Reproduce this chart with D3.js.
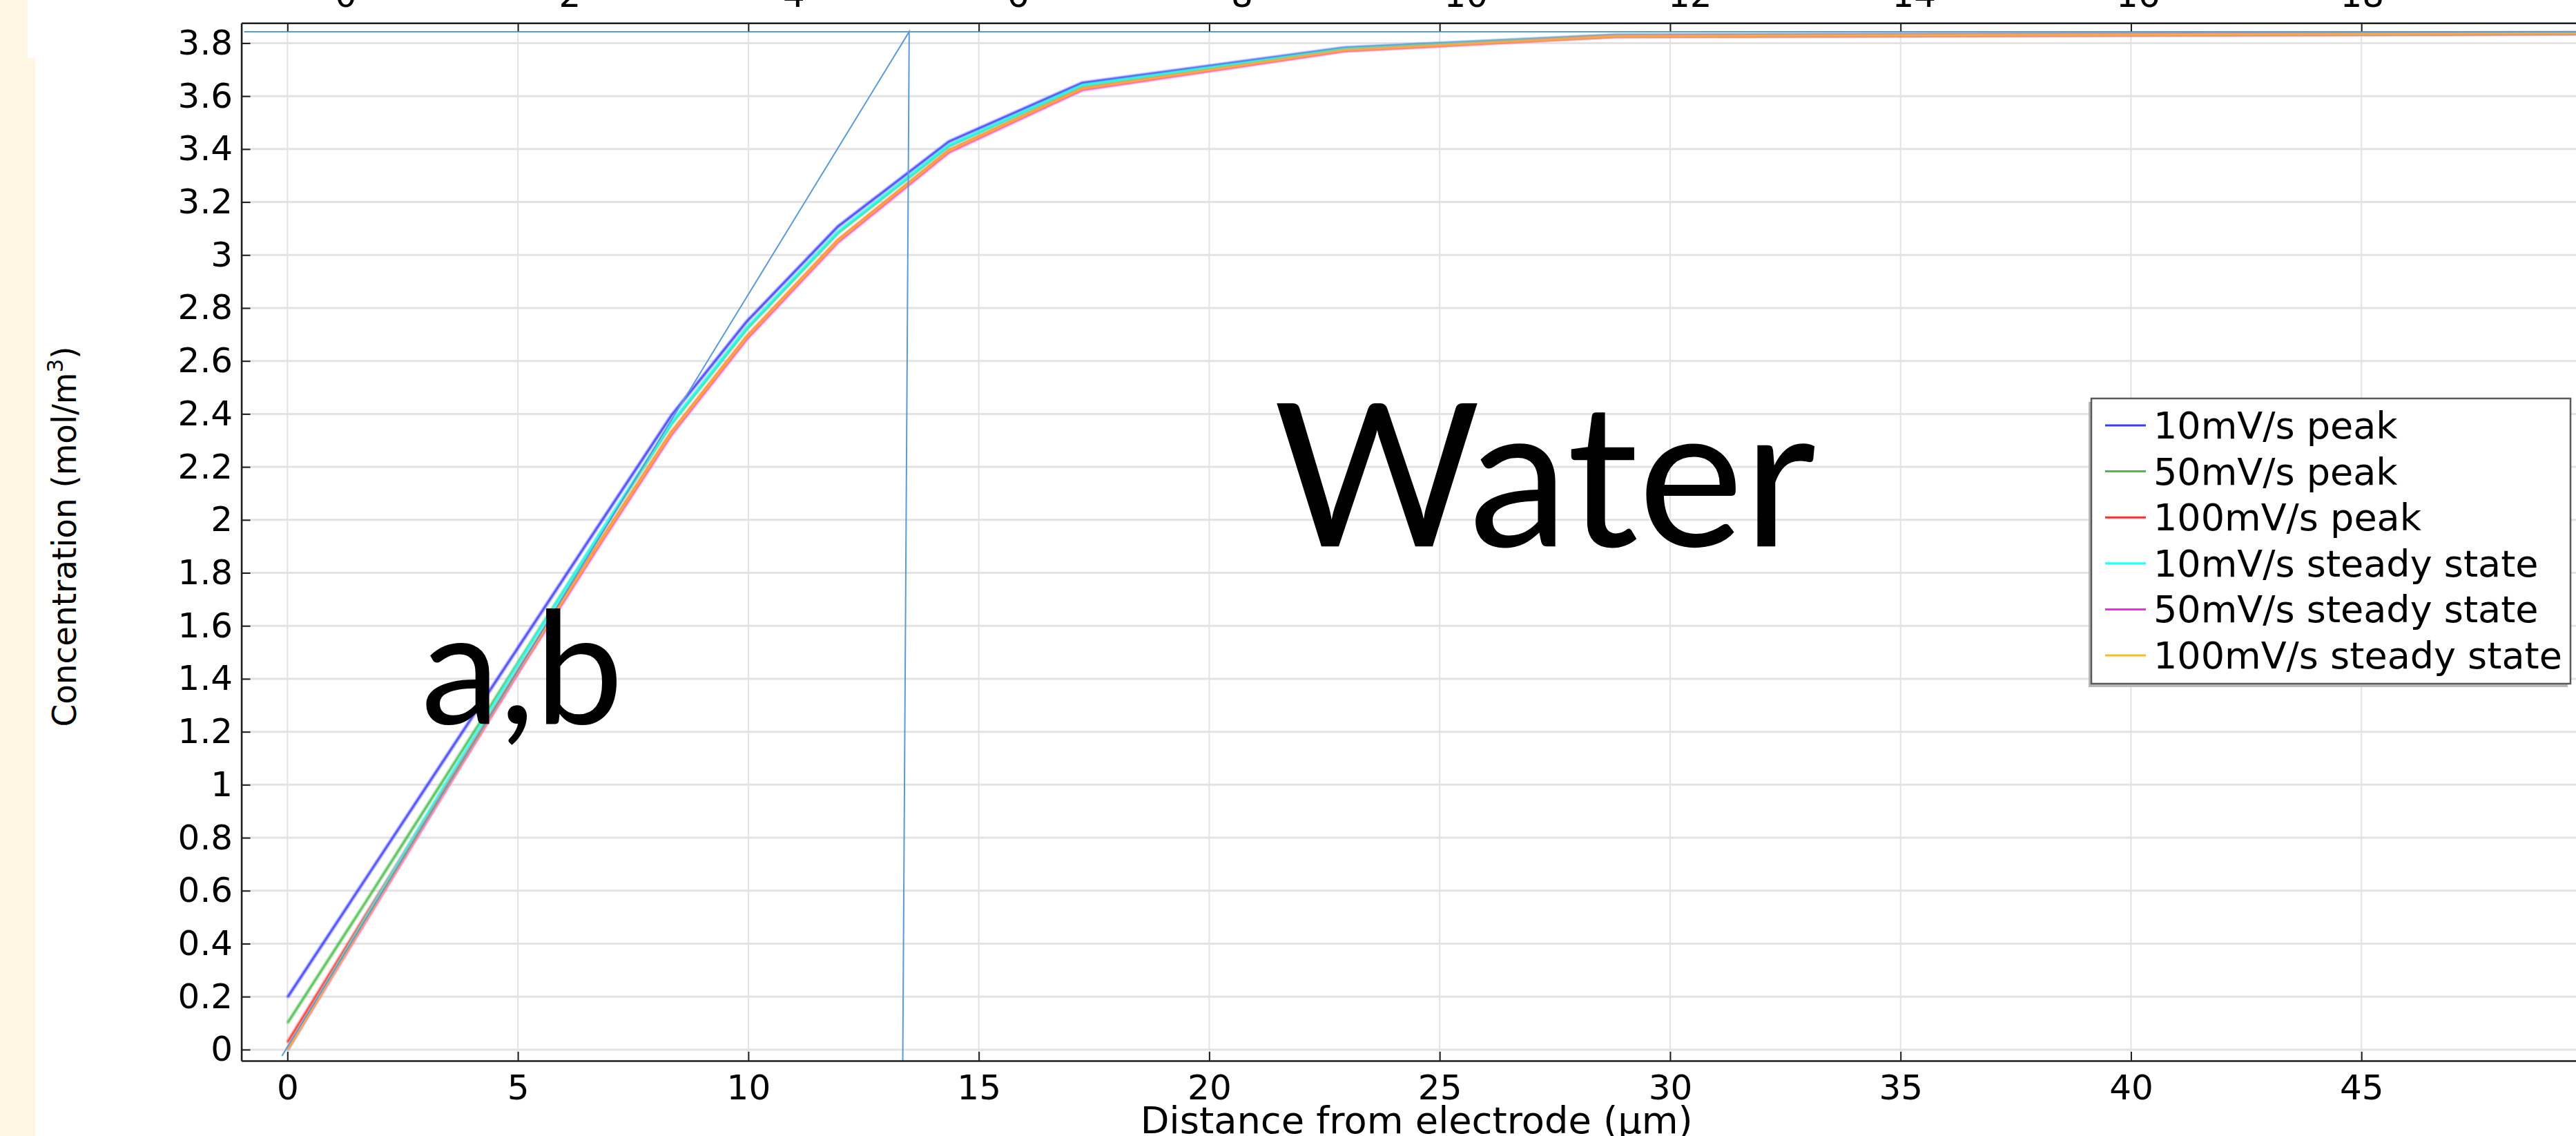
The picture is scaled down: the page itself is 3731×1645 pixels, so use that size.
<!DOCTYPE html>
<html>
<head>
<meta charset="utf-8">
<script src="https://cdn.jsdelivr.net/npm/d3@7"></script>
<style>
  html, body { margin: 0; padding: 0; background: #ffffff; }
  svg { display: block; }
</style>
</head>
<body>
<svg id="chart" width="3731" height="1645"></svg>
<script>
// ---- data: concentration profiles vs. distance from the electrode ----
const distance = [0, 1.7, 3.4, 5.1, 6.8, 8.33, 9.97, 11.94, 14.35, 17.25, 22.94, 28.8, 50];

const peak10    = [0.197, 0.646, 1.095, 1.543, 1.992, 2.394, 2.750, 3.107, 3.428, 3.650, 3.782, 3.829, 3.837];
const peak50    = [0.100, 0.558, 1.022, 1.488, 1.950, 2.362, 2.722, 3.083, 3.411, 3.640, 3.778, 3.828, 3.837];
const peak100   = [0.027, 0.508, 0.984, 1.459, 1.922, 2.330, 2.692, 3.055, 3.394, 3.629, 3.773, 3.826, 3.837];
const steady10  = [0.000, 0.500, 0.996, 1.482, 1.955, 2.366, 2.726, 3.087, 3.414, 3.641, 3.778, 3.828, 3.837];
const steady50  = [0.000, 0.486, 0.970, 1.450, 1.914, 2.322, 2.684, 3.048, 3.388, 3.624, 3.771, 3.826, 3.837];
const steady100 = [0.000, 0.490, 0.975, 1.455, 1.920, 2.328, 2.690, 3.053, 3.393, 3.628, 3.773, 3.826, 3.837];

const seriesNames  = ["10mV/s peak", "50mV/s peak", "100mV/s peak",
                      "10mV/s steady state", "50mV/s steady state", "100mV/s steady state"];
const seriesValues = [peak10, peak50, peak100, steady10, steady50, steady100];
const seriesColors = ["#3b3bff", "#4cbb4c", "#ff3030", "#22ffff", "#ff22ff", "#ffbb22"];

// bulk concentration and diffusion-layer tangent construction
const bulkLine    = [[-0.94, 3.843], [50, 3.843]];
const tangentLine = [[-0.12, -0.024], [13.49, 3.843], [13.35, -0.042]];

// ticks
const yTicks      = [0, 0.2, 0.4, 0.6, 0.8, 1, 1.2, 1.4, 1.6, 1.8, 2, 2.2, 2.4, 2.6, 2.8, 3, 3.2, 3.4, 3.6, 3.8];
const xTicks      = [0, 5, 10, 15, 20, 25, 30, 35, 40, 45, 50];
const xTickLabels = [0, 5, 10, 15, 20, 25, 30, 35, 40, 45];
const topTicks    = [0, 2, 4, 6, 8, 10, 12, 14, 16, 18, 20];
const topLabels   = [0, 2, 4, 6, 8, 10, 12, 14, 16, 18];

const xTitle = "Distance from electrode (\u00b5m)";
const annotations = [
  { text: "a,b",   x: 2.9,  y: 1.23, size: 228 },
  { text: "Water", x: 21.4, y: 1.90, size: 289 }
];

// ---- layout ----
const FONT = "'DejaVu Sans', sans-serif";
const plot = { left: 349.6, right: 3754, top: 33.3, bottom: 1536 };

const svg = d3.select("#chart");

const x = d3.scaleLinear().domain([-1, 50]).range([plot.left, plot.right]);
const y = d3.scaleLinear().domain([-0.042, 3.876]).range([plot.bottom, plot.top]);
const xTop = d3.scaleLinear().domain([-0.4, 20]).range([plot.left, plot.right]);
const xTopLabel = d3.scaleLinear().domain([0, 18]).range([500.5, 3420.8]);

// cream strip on the far left
svg.append("rect").attr("x", 0).attr("y", 0).attr("width", 40).attr("height", 84).attr("fill", "#fff6e4");
svg.append("rect").attr("x", 0).attr("y", 84).attr("width", 51).attr("height", 1645 - 84).attr("fill", "#fff6e4");

svg.append("defs").html(`
  <clipPath id="plotClip"><rect x="${plot.left}" y="${plot.top}" width="${plot.right - plot.left}" height="${plot.bottom - plot.top}"></rect></clipPath>
  <filter id="soft" x="-5%" y="-5%" width="110%" height="110%"><feGaussianBlur stdDeviation="0.8"/></filter>
`);

// ---- grid ----
const grid = svg.append("g").attr("clip-path", "url(#plotClip)");
grid.selectAll("line.hgrid").data(yTicks).join("line")
  .attr("class", "hgrid")
  .attr("x1", plot.left).attr("x2", plot.right)
  .attr("y1", d => y(d)).attr("y2", d => y(d))
  .attr("stroke", "#e3e3e3").attr("stroke-width", 3);
grid.selectAll("line.vgrid").data(xTicks).join("line")
  .attr("class", "vgrid")
  .attr("x1", d => x(d)).attr("x2", d => x(d))
  .attr("y1", plot.top).attr("y2", plot.bottom)
  .attr("stroke", "#e3e3e3").attr("stroke-width", 2);

// ---- curves ----
const line = d3.line().x(d => x(d[0])).y(d => y(d[1]));
const curves = svg.append("g").attr("clip-path", "url(#plotClip)");
curves.selectAll("path.series")
  .data(seriesValues.map((vals, i) => ({ pts: distance.map((dx, j) => [dx, vals[j]]), color: seriesColors[i] })))
  .join("path")
  .attr("class", "series")
  .attr("d", d => line(d.pts))
  .attr("fill", "none")
  .attr("stroke", d => d.color)
  .attr("stroke-width", 3.6)
  .attr("stroke-linejoin", "round")
  .attr("filter", "url(#soft)");

// tangent / bulk construction lines
const refs = svg.append("g").attr("clip-path", "url(#plotClip)");
[bulkLine, tangentLine].forEach(pts => {
  refs.append("path")
    .attr("d", line(pts))
    .attr("fill", "none")
    .attr("stroke", "#5b9bd5")
    .attr("stroke-width", 2);
});

// ---- axes ----
function styleAxis(g) {
  g.selectAll(".domain").attr("stroke", "#1e1e1e").attr("stroke-width", 2.6);
  g.selectAll(".tick line").attr("stroke", "#1e1e1e").attr("stroke-width", 2);
  g.selectAll("text").attr("font-family", FONT).attr("font-size", 50).attr("fill", "#000");
}

const fmt = d => String(+d.toFixed(1));

svg.append("g")
  .attr("transform", `translate(0,${plot.bottom})`)
  .call(d3.axisBottom(x).tickValues(xTicks).tickSizeInner(-13).tickSizeOuter(0).tickPadding(20.5)
        .tickFormat(d => xTickLabels.includes(d) ? fmt(d) : ""))
  .call(styleAxis);

svg.append("g")
  .attr("transform", `translate(${plot.left},0)`)
  .call(d3.axisLeft(y).tickValues(yTicks).tickSizeInner(-13).tickSizeOuter(0).tickPadding(12.5).tickFormat(fmt))
  .call(styleAxis);

svg.append("g")
  .attr("transform", `translate(0,${plot.top})`)
  .call(d3.axisTop(xTop).tickValues(topTicks).tickSizeInner(-12).tickSizeOuter(0).tickFormat(""))
  .call(styleAxis);

const topLabelAxis = svg.append("g")
  .attr("transform", "translate(0,10)")
  .call(d3.axisTop(xTopLabel).tickValues(topLabels).tickSize(0).tickPadding(0).tickFormat(fmt))
  .call(styleAxis);
topLabelAxis.select(".domain").remove();

// ---- axis titles ----
svg.append("text")
  .attr("x", (plot.left + plot.right) / 2)
  .attr("y", 1641)
  .attr("text-anchor", "middle")
  .attr("font-family", FONT).attr("font-size", 54)
  .attr("textLength", 800).attr("lengthAdjust", "spacingAndGlyphs")
  .text(xTitle);

const yTitle = svg.append("text")
  .attr("transform", "translate(110,777) rotate(-90)")
  .attr("text-anchor", "middle")
  .attr("font-family", FONT).attr("font-size", 48)
  .attr("textLength", 551).attr("lengthAdjust", "spacingAndGlyphs");
yTitle.append("tspan").text("Concentration (mol/m");
yTitle.append("tspan").attr("baseline-shift", "super").attr("font-size", 32).text("3");
yTitle.append("tspan").text(")");

// ---- annotations ----
svg.selectAll("text.note").data(annotations).join("text")
  .attr("class", "note")
  .attr("x", d => x(d.x)).attr("y", d => y(d.y))
  .attr("font-family", "Lato, 'Open Sans', sans-serif")
  .attr("font-size", d => d.size)
  .attr("fill", "#000")
  .text(d => d.text);

// ---- legend ----
const legend = { x: 3029, y: 577, w: 694, h: 413, rowY0: 616, rowStep: 66.6 };
svg.append("rect")
  .attr("x", legend.x - 4).attr("y", legend.y + 5)
  .attr("width", legend.w).attr("height", legend.h)
  .attr("fill", "#b8b8b8");
svg.append("rect")
  .attr("x", legend.x).attr("y", legend.y)
  .attr("width", legend.w).attr("height", legend.h)
  .attr("fill", "#ffffff").attr("stroke", "#5a5a5a").attr("stroke-width", 2.5);

const rows = svg.append("g").selectAll("g").data(seriesNames).join("g")
  .attr("transform", (d, i) => `translate(${legend.x},${legend.rowY0 + i * legend.rowStep})`);
rows.append("line")
  .attr("x1", 20).attr("x2", 79)
  .attr("stroke", (d, i) => seriesColors[i]).attr("stroke-width", 3);
rows.append("text")
  .attr("x", 90).attr("dy", "0.35em")
  .attr("font-family", FONT).attr("font-size", 54).attr("fill", "#000")
  .text(d => d);
</script>
</body>
</html>
